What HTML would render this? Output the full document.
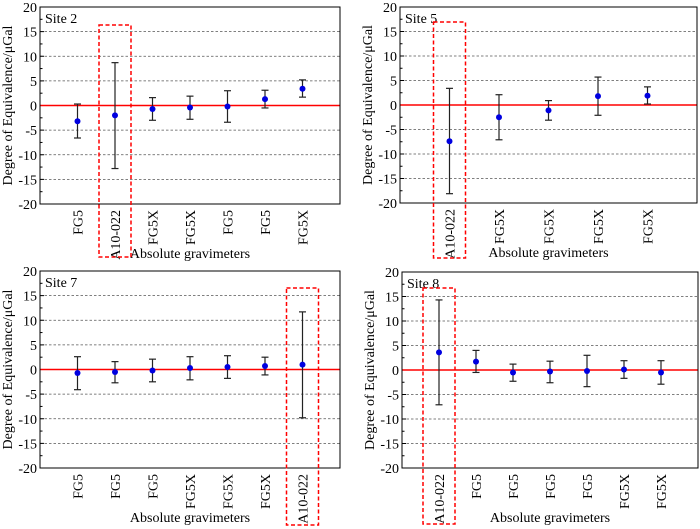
<!DOCTYPE html>
<html><head><meta charset="utf-8"><style>
body{margin:0;background:#fff}
svg{display:block}
text{font-family:"Liberation Serif","Times New Roman",serif}
</style></head><body>
<svg id="c" width="700" height="529" viewBox="0 0 700 529" font-family="Liberation Serif, serif"></svg>
<script>
const site2Cats=["FG5","A10-022","FG5X","FG5X","FG5","FG5","FG5X"];
const site2Vals=[-3.2,-2.0,-0.7,-0.4,-0.2,1.3,3.4];
const site2Lo=[-6.6,-12.8,-3.0,-2.8,-3.4,-0.5,1.7];
const site2Hi=[0.3,8.7,1.6,1.9,3.0,3.1,5.2];
const site5Cats=["A10-022","FG5X","FG5X","FG5X","FG5X"];
const site5Vals=[-7.4,-2.5,-1.1,1.8,1.9];
const site5Lo=[-18.1,-7.1,-3.1,-2.1,0.2];
const site5Hi=[3.4,2.1,0.9,5.7,3.7];
const site7Cats=["FG5","FG5","FG5","FG5X","FG5X","FG5X","A10-022"];
const site7Vals=[-0.7,-0.5,-0.2,0.3,0.5,0.7,1.0];
const site7Lo=[-4.1,-2.7,-2.5,-2.1,-1.8,-1.1,-9.8];
const site7Hi=[2.6,1.6,2.1,2.6,2.8,2.5,11.7];
const site8Cats=["A10-022","FG5","FG5","FG5","FG5","FG5X","FG5X"];
const site8Vals=[3.6,1.7,-0.5,-0.3,-0.2,0.1,-0.5];
const site8Lo=[-7.1,-0.5,-2.3,-2.6,-3.4,-1.7,-2.9];
const site8Hi=[14.3,4.0,1.2,1.8,3.0,1.9,1.9];
const yTicks=[20,15,10,5,0,-5,-10,-15,-20];

const svg=document.getElementById('c');
const NS='http://www.w3.org/2000/svg';
const FF='"Liberation Serif", serif';
function mk(tag,attrs,parent,text){const e=document.createElementNS(NS,tag);for(const k in attrs)e.setAttribute(k,attrs[k]);if(text!==undefined){e.textContent=text;e.style.fontFamily=FF;}parent.appendChild(e);return e;}

function panel(id,title,L,T,W,H,cats,vals,lo,hi,hl,box){
  const g=mk('g',{},svg);
  
  
  const y=v=>T+(20-v)/40*H;
  const n=cats.length,step=W/(n+1);
  const x=i=>L+step*(i+1);
  yTicks.forEach(t=>{
    if(t!==20&&t!==-20&&t!==0){const gl=mk('line',{x1:L,x2:L+W,y1:y(t),y2:y(t),stroke:'#555','stroke-width':0.8,'stroke-dasharray':'2.5,2'},g);
      }
    const tk=mk('line',{x1:L,x2:L+4,y1:y(t),y2:y(t),stroke:'#000'},g);
    
    const lb=mk('text',{x:L-3,y:y(t)+5,'text-anchor':'end','font-size':14},g,String(t));
    
  });
  for(let t=-17.5;t<20;t+=5){const m=mk('line',{x1:L,x2:L+2.5,y1:y(t),y2:y(t),stroke:'#000'},g);
    }
  const z=mk('line',{x1:L,x2:L+W,y1:y(0),y2:y(0),stroke:'#f00','stroke-width':1.6},g);
  
  const fr=mk('rect',{x:L,y:T,width:W,height:H,fill:'none',stroke:'#000','stroke-width':1},g);
  
  const tt=mk('text',{x:L+5,y:T+16,'font-size':14},g,title);
  
  const yl=mk('text',{transform:`translate(${L-28},${T+H/2}) rotate(-90)`,'text-anchor':'middle','font-size':14},g,'Degree of Equivalence/\u03bcGal');
  
  const xl=mk('text',{x:L+W/2,y:T+H+54,'text-anchor':'middle','font-size':14},g,'Absolute gravimeters');
  
  cats.forEach((c,i)=>{
    const cx=x(i);
    const cl=mk('text',{transform:`translate(${cx+5},${T+H+6}) rotate(-90)`,'text-anchor':'end','font-size':14},g,c);
    
    const eb=mk('line',{x1:cx,x2:cx,y1:y(hi[i]),y2:y(lo[i]),stroke:'#222','stroke-width':1.2},g);
    
    [hi[i],lo[i]].forEach(v=>{const cap=mk('line',{x1:cx-3.5,x2:cx+3.5,y1:y(v),y2:y(v),stroke:'#222','stroke-width':1.2},g);
      });
    const p=mk('circle',{cx:cx,cy:y(vals[i]),r:3,fill:'#0000e0'},g);
    
  });
  const hx=x(hl);
  const b=mk('rect',{x:hx-16,y:box[0],width:32,height:box[1]-box[0],fill:'none',stroke:'#f00','stroke-width':1.5,'stroke-dasharray':'4,2.5'},g);
  
}
panel('site2','Site 2',40,7,300,197,site2Cats,site2Vals,site2Lo,site2Hi,1,[25,257]);
panel('site5','Site 5',400,7,297,196,site5Cats,site5Vals,site5Lo,site5Hi,0,[22,258]);
panel('site7','Site 7',40,271,300,197,site7Cats,site7Vals,site7Lo,site7Hi,6,[288,525]);
panel('site8','Site 8',402,272,296,196,site8Cats,site8Vals,site8Lo,site8Hi,0,[288,524]);
</script>
</body></html>
